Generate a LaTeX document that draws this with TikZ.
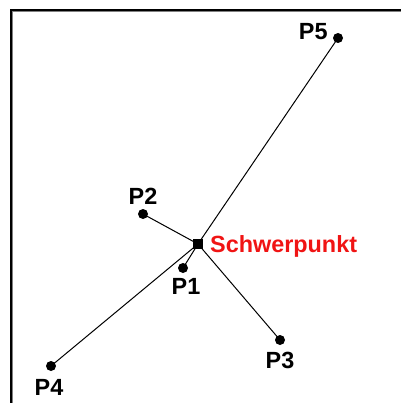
\documentclass[tikz,border=0pt]{standalone}
\usepackage{fontspec}
\setmainfont{Liberation Sans}
\usetikzlibrary{positioning}
\definecolor{signal}{RGB}{240,20,20}
\tikzset{
  pt/.style={circle,fill=black,inner sep=0pt,minimum size=10pt},
  centre/.style={rectangle,fill=black,inner sep=0pt,minimum size=9.5pt},
  lbl/.style={inner sep=0pt,font=\fontsize{23.4}{28}\selectfont\bfseries},
  arm/.style={draw=black,line width=1pt},
}
\begin{document}
\begin{tikzpicture}[x=1pt,y=-1pt]
  \useasboundingbox (0,0) rectangle (401,403);
  % frame (left and top only)
  \draw[gray,line width=1pt] (12.5,403) -- (12.5,11.5) -- (401,11.5);
  \draw[line width=2pt] (11,403) -- (11,10) -- (401,10);
  % points
  \node[centre] (s) at (198,244) {};
  \node[pt] (p1) at (183,268) {};
  \node[pt] (p2) at (143,214) {};
  \node[pt] (p3) at (280,340) {};
  \node[pt] (p4) at (51,366) {};
  \node[pt] (p5) at (338,38) {};
  % connections to the centre
  \foreach \p in {p1,p2,p3,p4,p5}
    \draw[arm] (s.center) -- (\p.center);
  % labels
  \node[lbl,above=4pt of p2] (l2) {P2};
  \node[lbl,below=5pt of p1,xshift=3pt] (l1) {P1};
  \node[lbl,below=7pt of p3] (l3) {P3};
  \node[lbl,below=8pt of p4,xshift=-2pt] (l4) {P4};
  \node[lbl,left=5pt of p5,yshift=6pt] (l5) {P5};
  \node[lbl,right=7pt of s,yshift=-2pt,text=signal] (ls) {Schwerpunkt};
\end{tikzpicture}
\end{document}
